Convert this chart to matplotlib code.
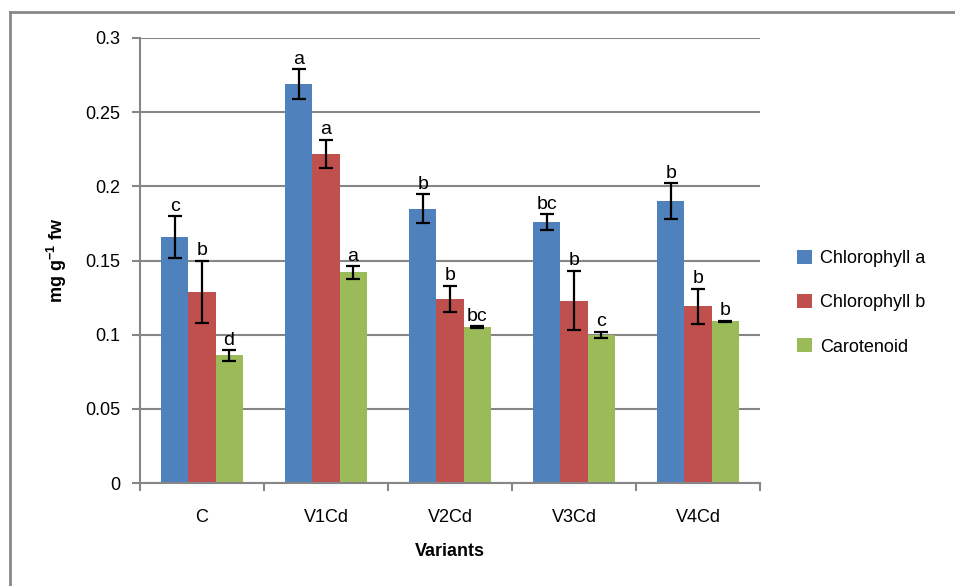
import matplotlib.pyplot as plt
from matplotlib.lines import Line2D
import numpy as np

plt.rcParams['font.family'] = ['Liberation Sans', 'DejaVu Sans']
plt.rcParams['mathtext.default'] = 'regular'

variants = ['C', 'V1Cd', 'V2Cd', 'V3Cd', 'V4Cd']
series = ['Chlorophyll a', 'Chlorophyll b', 'Carotenoid']

chl_a = [0.166, 0.269, 0.185, 0.176, 0.190]
chl_a_err = [0.014, 0.010, 0.0097, 0.0052, 0.012]
chl_a_let = ['c', 'a', 'b', 'bc', 'b']

chl_b = [0.129, 0.222, 0.124, 0.123, 0.119]
chl_b_err = [0.021, 0.0095, 0.009, 0.020, 0.012]
chl_b_let = ['b', 'a', 'b', 'b', 'b']

carot = [0.086, 0.142, 0.105, 0.100, 0.109]
carot_err = [0.0035, 0.0042, 0.0008, 0.002, 0.0005]
carot_let = ['d', 'a', 'bc', 'c', 'b']

colors = ['#4F81BD', '#C0504D', '#9BBB59']

fig = plt.figure(figsize=(9.55, 5.86), dpi=100)
ax = fig.add_axes([140 / 955, 1 - 483 / 586, 620 / 955, 445 / 586])

x = np.arange(len(variants))
w = 0.218
data = [(chl_a, chl_a_err, chl_a_let), (chl_b, chl_b_err, chl_b_let), (carot, carot_err, carot_let)]
for i, (vals, errs, lets) in enumerate(data):
    pos = x + (i - 1) * w
    ax.bar(pos, vals, w, color=colors[i], label=series[i], zorder=2)
    ax.errorbar(pos, vals, yerr=errs, fmt='none', ecolor='black', elinewidth=1.6,
                capsize=5, capthick=1.6, zorder=3)
    for px, v, e, l in zip(pos, vals, errs, lets):
        ax.text(px, v + e + 0.001, l, ha='center', va='bottom', fontsize=14)

ax.set_xlim(-0.5, len(variants) - 0.5)
ax.set_ylim(0, 0.3)
ax.set_yticks(np.arange(0, 0.301, 0.05))
ax.set_yticklabels(['0', '0.05', '0.1', '0.15', '0.2', '0.25', '0.3'])
ax.set_xticks(x)
ax.set_xticklabels(variants)
ax.set_xticks(np.arange(-0.5, len(variants)), minor=True)
ax.tick_params(axis='x', which='major', length=0, pad=19, labelsize=13)
ax.tick_params(axis='x', which='minor', length=6, width=1.5, color='#868686', direction='out')
ax.tick_params(axis='y', length=6, width=1.5, color='#868686', labelsize=13, pad=8)

ax.yaxis.grid(True, color='#868686', linewidth=1.5, zorder=0)
ax.set_axisbelow(True)
for s in ['top', 'right']:
    ax.spines[s].set_visible(False)
for s in ['left', 'bottom']:
    ax.spines[s].set_color('#868686')
    ax.spines[s].set_linewidth(1.5)

ax.set_xlabel('Variants', fontsize=13, fontweight='bold', labelpad=12)
ax.set_ylabel(r'mg g$^{-1}$ fw', fontsize=13, fontweight='bold', labelpad=12)

ax.legend(loc='center left', bbox_to_anchor=(1.06, 0.405), frameon=False, fontsize=13,
          handlelength=0.8, handleheight=0.8, labelspacing=1.5, handletextpad=0.45,
          borderaxespad=0, borderpad=0)

# outer chart frame (top and left edges visible)
fig.add_artist(Line2D([10 / 955, 1], [1 - 12 / 586, 1 - 12 / 586], color='#878787', linewidth=2))
fig.add_artist(Line2D([10 / 955, 10 / 955], [0, 1 - 12 / 586], color='#878787', linewidth=2))

fig.savefig('out.png', dpi=100)
